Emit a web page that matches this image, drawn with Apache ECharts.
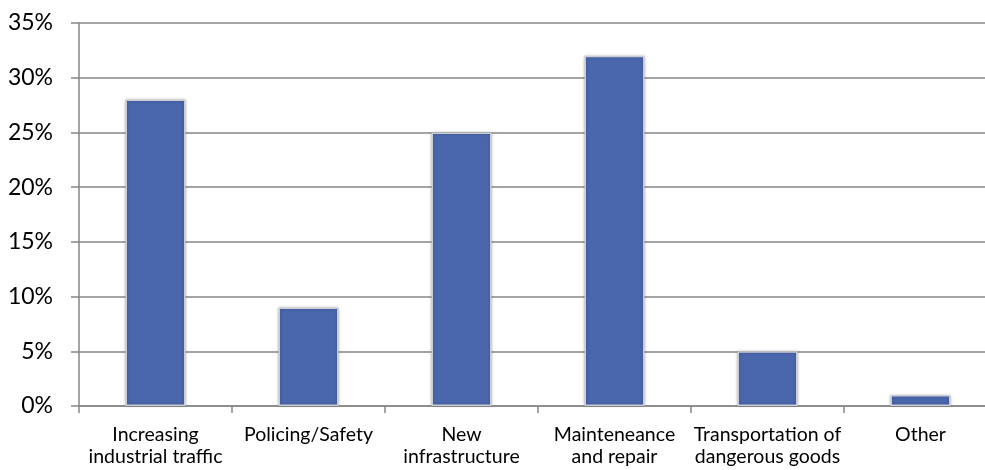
<!DOCTYPE html>
<html><head><meta charset="utf-8">
<script src="https://cdn.jsdelivr.net/npm/echarts@6/dist/echarts.min.js"></script>
<style>html,body{margin:0;padding:0;background:#fff;overflow:hidden;width:985px;height:470px}#c{width:997px;height:470px}</style>
</head><body><div id="c"></div>
<script>
const categories = ["Increasing\nindustrial traffic", "Policing/Safety", "New\ninfrastructure", "Mainteneance\nand repair", "Transportation of\ndangerous goods", "Other"];
const values = [28, 9, 25, 32, 5, 1];
const yTicks = [0, 5, 10, 15, 20, 25, 30, 35];

const chart = echarts.init(document.getElementById('c'), null, {renderer: 'canvas'});
chart.setOption({
  animation: false,
  grid: {left: 79, right: 0, top: 23, bottom: 64},
  xAxis: {
    type: 'category',
    data: categories,
    boundaryGap: true,
    axisLine: {show: true, lineStyle: {color: '#868686', width: 1.5}},
    axisTick: {show: true, length: 7, alignWithLabel: false, lineStyle: {color: '#868686', width: 1.5}},
    axisLabel: {margin: 18, fontFamily: 'Lato', fontSize: 19.5, lineHeight: 22, color: '#000', interval: 0}
  },
  yAxis: {
    type: 'value',
    min: yTicks[0], max: yTicks[yTicks.length - 1], interval: 5,
    axisLine: {show: true, lineStyle: {color: '#868686', width: 1.5}},
    axisTick: {show: true, length: 8, lineStyle: {color: '#868686', width: 1.5}},
    splitLine: {show: true, lineStyle: {color: '#868686', width: 1.5}},
    axisLabel: {margin: 26, fontFamily: 'Lato', fontSize: 23, color: '#000', formatter: v => v + '%'}
  },
  series: [{
    type: 'bar',
    data: values,
    barWidth: 60,
    itemStyle: {color: '#4a66ac', borderColor: '#c9cdd6', borderWidth: 1.5, shadowColor: 'rgba(0,0,0,0.25)', shadowBlur: 3}
  }]
});
</script></body></html>
